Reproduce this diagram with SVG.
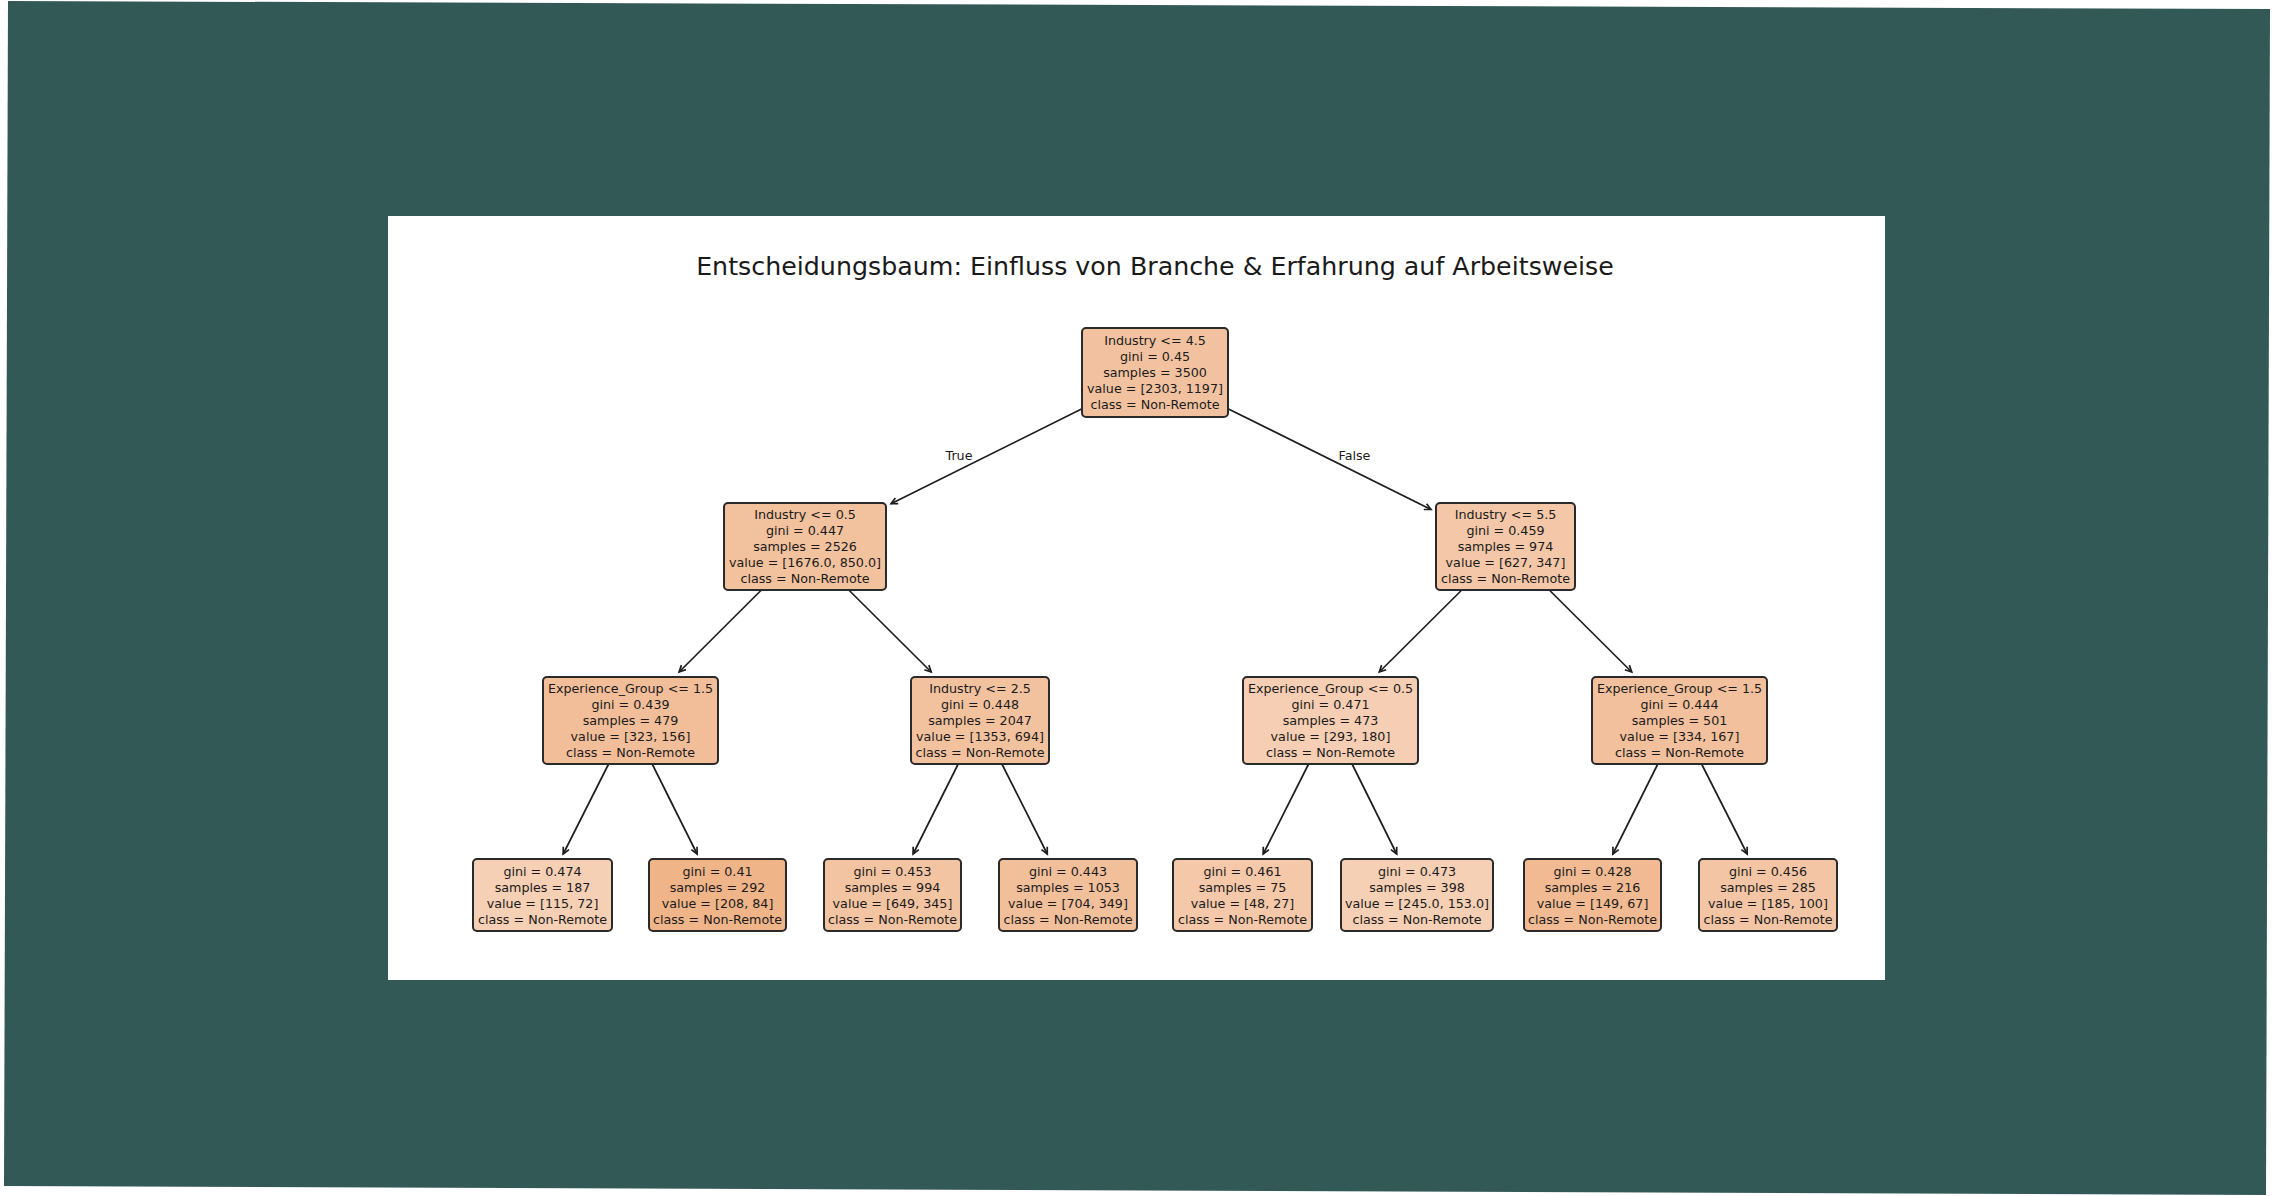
<svg xmlns="http://www.w3.org/2000/svg" width="2274" height="1196" viewBox="0 0 2274 1196">
<style>
.nb{stroke:#2a2a2a;stroke-width:2}
.t{font-family:"DejaVu Sans",sans-serif;font-size:12.7px;fill:#1a1a1a;text-anchor:middle}
.title{font-family:"DejaVu Sans",sans-serif;font-size:25.3px;fill:#1a1a1a;text-anchor:middle}
.e{stroke:#1e1e1e;stroke-width:1.7;fill:none;marker-end:url(#ah)}
</style>
<defs>
<marker id="ah" markerUnits="userSpaceOnUse" markerWidth="14" markerHeight="12" refX="0" refY="0" viewBox="-9 -6 11 12" orient="auto">
<path d="M-6.5,-3.2 L0,0 L-6.5,3.2" fill="none" stroke="#1e1e1e" stroke-width="1.7"/>
</marker>
</defs>
<rect x="0" y="0" width="2274" height="1196" fill="#ffffff"/>
<polygon points="8,1 2270,9 2266,1195 4,1186" fill="#335957"/>
<rect x="388" y="216" width="1497" height="764" fill="#ffffff"/>
<text class="title" x="1155" y="275">Entscheidungsbaum: Einfluss von Branche &amp; Erfahrung auf Arbeitsweise</text>

<g id="connectors">
<line class="e" x1="1082" y1="408.8" x2="891" y2="503.7"/>
<line class="e" x1="1228" y1="408.7" x2="1431" y2="509.5"/>
<line class="e" x1="761.4" y1="590" x2="679.1" y2="672"/>
<line class="e" x1="848.8" y1="590" x2="931.2" y2="672"/>
<line class="e" x1="1461.8" y1="590" x2="1379.3" y2="672"/>
<line class="e" x1="1549.3" y1="590" x2="1631.7" y2="672"/>
<line class="e" x1="608.6" y1="764" x2="563.2" y2="854"/>
<line class="e" x1="652.2" y1="764" x2="697.1" y2="854"/>
<line class="e" x1="958.2" y1="764" x2="913.1" y2="854"/>
<line class="e" x1="1001.9" y1="764" x2="1047.3" y2="854"/>
<line class="e" x1="1308.6" y1="764" x2="1263.2" y2="854"/>
<line class="e" x1="1352.1" y1="764" x2="1396.7" y2="854"/>
<line class="e" x1="1657.8" y1="764" x2="1612.9" y2="854"/>
<line class="e" x1="1701.6" y1="764" x2="1747.2" y2="854"/>
<text class="t" x="959" y="459.5">True</text>
<text class="t" x="1354.5" y="459.5">False</text>
</g>

<g id="n0">
<rect class="nb" x="1082" y="328" width="146" height="89" rx="4" fill="rgb(242,194,160)"/>
<text class="t"><tspan x="1155" y="345">Industry &lt;= 4.5</tspan><tspan x="1155" y="361">gini = 0.45</tspan><tspan x="1155" y="377">samples = 3500</tspan><tspan x="1155" y="393">value = [2303, 1197]</tspan><tspan x="1155" y="409">class = Non-Remote</tspan></text>
</g>
<g id="n1">
<rect class="nb" x="724" y="503" width="162" height="87" rx="4" fill="rgb(242,193,157)"/>
<text class="t"><tspan x="805" y="519">Industry &lt;= 0.5</tspan><tspan x="805" y="535">gini = 0.447</tspan><tspan x="805" y="551">samples = 2526</tspan><tspan x="805" y="567">value = [1676.0, 850.0]</tspan><tspan x="805" y="583">class = Non-Remote</tspan></text>
</g>
<g id="n8">
<rect class="nb" x="1436" y="503" width="139" height="87" rx="4" fill="rgb(243,199,167)"/>
<text class="t"><tspan x="1505.5" y="519">Industry &lt;= 5.5</tspan><tspan x="1505.5" y="535">gini = 0.459</tspan><tspan x="1505.5" y="551">samples = 974</tspan><tspan x="1505.5" y="567">value = [627, 347]</tspan><tspan x="1505.5" y="583">class = Non-Remote</tspan></text>
</g>
<g id="n2">
<rect class="nb" x="543" y="677" width="175" height="87" rx="4" fill="rgb(242,190,153)"/>
<text class="t"><tspan x="630.5" y="693">Experience_Group &lt;= 1.5</tspan><tspan x="630.5" y="709">gini = 0.439</tspan><tspan x="630.5" y="725">samples = 479</tspan><tspan x="630.5" y="741">value = [323, 156]</tspan><tspan x="630.5" y="757">class = Non-Remote</tspan></text>
</g>
<g id="n5">
<rect class="nb" x="911" y="677" width="138" height="87" rx="4" fill="rgb(242,194,159)"/>
<text class="t"><tspan x="980" y="693">Industry &lt;= 2.5</tspan><tspan x="980" y="709">gini = 0.448</tspan><tspan x="980" y="725">samples = 2047</tspan><tspan x="980" y="741">value = [1353, 694]</tspan><tspan x="980" y="757">class = Non-Remote</tspan></text>
</g>
<g id="n9">
<rect class="nb" x="1243" y="677" width="175" height="87" rx="4" fill="rgb(245,206,179)"/>
<text class="t"><tspan x="1330.5" y="693">Experience_Group &lt;= 0.5</tspan><tspan x="1330.5" y="709">gini = 0.471</tspan><tspan x="1330.5" y="725">samples = 473</tspan><tspan x="1330.5" y="741">value = [293, 180]</tspan><tspan x="1330.5" y="757">class = Non-Remote</tspan></text>
</g>
<g id="n12">
<rect class="nb" x="1592" y="677" width="175" height="87" rx="4" fill="rgb(242,192,156)"/>
<text class="t"><tspan x="1679.5" y="693">Experience_Group &lt;= 1.5</tspan><tspan x="1679.5" y="709">gini = 0.444</tspan><tspan x="1679.5" y="725">samples = 501</tspan><tspan x="1679.5" y="741">value = [334, 167]</tspan><tspan x="1679.5" y="757">class = Non-Remote</tspan></text>
</g>

<g id="n3">
<rect class="nb" x="473" y="859" width="139" height="72" rx="4" fill="rgb(245,208,181)"/>
<text class="t"><tspan x="542.5" y="876">gini = 0.474</tspan><tspan x="542.5" y="892">samples = 187</tspan><tspan x="542.5" y="908">value = [115, 72]</tspan><tspan x="542.5" y="924">class = Non-Remote</tspan></text>
</g>
<g id="n4">
<rect class="nb" x="649" y="859" width="137" height="72" rx="4" fill="rgb(240,180,137)"/>
<text class="t"><tspan x="717.5" y="876">gini = 0.41</tspan><tspan x="717.5" y="892">samples = 292</tspan><tspan x="717.5" y="908">value = [208, 84]</tspan><tspan x="717.5" y="924">class = Non-Remote</tspan></text>
</g>
<g id="n6">
<rect class="nb" x="824" y="859" width="137" height="72" rx="4" fill="rgb(243,196,162)"/>
<text class="t"><tspan x="892.5" y="876">gini = 0.453</tspan><tspan x="892.5" y="892">samples = 994</tspan><tspan x="892.5" y="908">value = [649, 345]</tspan><tspan x="892.5" y="924">class = Non-Remote</tspan></text>
</g>
<g id="n7">
<rect class="nb" x="999" y="859" width="138" height="72" rx="4" fill="rgb(242,191,155)"/>
<text class="t"><tspan x="1068" y="876">gini = 0.443</tspan><tspan x="1068" y="892">samples = 1053</tspan><tspan x="1068" y="908">value = [704, 349]</tspan><tspan x="1068" y="924">class = Non-Remote</tspan></text>
</g>
<g id="n10">
<rect class="nb" x="1173" y="859" width="139" height="72" rx="4" fill="rgb(244,200,168)"/>
<text class="t"><tspan x="1242.5" y="876">gini = 0.461</tspan><tspan x="1242.5" y="892">samples = 75</tspan><tspan x="1242.5" y="908">value = [48, 27]</tspan><tspan x="1242.5" y="924">class = Non-Remote</tspan></text>
</g>
<g id="n11">
<rect class="nb" x="1341" y="859" width="152" height="72" rx="4" fill="rgb(245,208,181)"/>
<text class="t"><tspan x="1417" y="876">gini = 0.473</tspan><tspan x="1417" y="892">samples = 398</tspan><tspan x="1417" y="908">value = [245.0, 153.0]</tspan><tspan x="1417" y="924">class = Non-Remote</tspan></text>
</g>
<g id="n13">
<rect class="nb" x="1524" y="859" width="137" height="72" rx="4" fill="rgb(241,186,146)"/>
<text class="t"><tspan x="1592.5" y="876">gini = 0.428</tspan><tspan x="1592.5" y="892">samples = 216</tspan><tspan x="1592.5" y="908">value = [149, 67]</tspan><tspan x="1592.5" y="924">class = Non-Remote</tspan></text>
</g>
<g id="n14">
<rect class="nb" x="1699" y="859" width="138" height="72" rx="4" fill="rgb(243,197,164)"/>
<text class="t"><tspan x="1768" y="876">gini = 0.456</tspan><tspan x="1768" y="892">samples = 285</tspan><tspan x="1768" y="908">value = [185, 100]</tspan><tspan x="1768" y="924">class = Non-Remote</tspan></text>
</g>
</svg>
